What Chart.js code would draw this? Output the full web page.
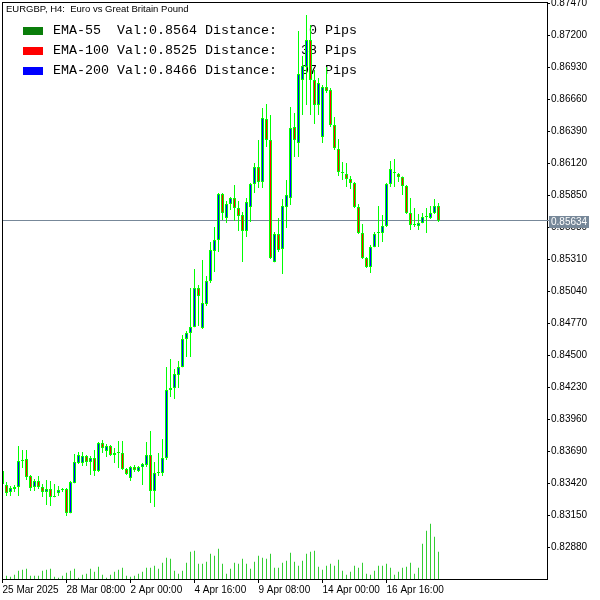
<!DOCTYPE html>
<html><head><meta charset="utf-8">
<script src="https://cdn.jsdelivr.net/npm/chart.js@4.4.1/dist/chart.umd.min.js"></script>
<style>html,body{margin:0;padding:0;background:#fff;}canvas{display:block;}</style>
</head><body>
<canvas id="c" width="600" height="600"></canvas>
<script>
const title = 'EURGBP, H4:  Euro vs Great Britain Pound';

const openP = [
.83524,.83406,.83347,.83372,.83389,.83608,.83625,.83482,.83389,.83440,
.83389,.83347,.83372,.83305,.83338,.83364,.83372,.83170,.83423,.83591,
.83591,.83650,.83600,.83633,.83524,.83760,.83692,.83735,.83659,.83676,
.83676,.83541,.83465,.83558,.83524,.83558,.83574,.83659,.83355,.83507,
.83507,.83633,.84207,.84224,.84333,.84401,.84637,.84687,.84738,.85067,
.84730,.84932,.85126,.85379,.85472,.85859,.85657,.85775,.85826,.85741,
.85682,.85548,.85750,.85944,.86087,.85961,.86492,.86315,.85286,.85522,
.85396,.85750,.85826,.86424,.86290,.86821,.86930,.87158,.86821,.86610,
.86340,.86762,.86736,.86441,.86239,.86037,.86028,.85986,.85952,.85750,
.85531,.85320,.85244,.85413,.85531,.85531,.85590,.85944,.86037,.86028,
.86003,.85927,.85699,.85598,.85590,.85615,.85666,.85657,.85699,.85758];

const highP = [
.83532,.83431,.83397,.83406,.83735,.83701,.83701,.83490,.83456,.83482,
.83414,.83448,.83440,.83414,.83397,.83380,.83380,.83440,.83667,.83684,
.83684,.83659,.83650,.83701,.83768,.83785,.83751,.83743,.83718,.83777,
.83777,.83549,.83566,.83574,.83566,.83591,.83768,.83861,.83600,.83676,
.83794,.84401,.84468,.84384,.84451,.84671,.84704,.85067,.85227,.85092,
.85303,.85168,.85455,.85581,.85868,.85868,.85800,.85834,.85935,.85800,
.85708,.85826,.85952,.86121,.86315,.86585,.86618,.86526,.85539,.85657,
.85817,.85978,.86593,.86543,.87234,.87023,.87369,.87285,.86905,.86838,
.86779,.86930,.86753,.86509,.86323,.86129,.86121,.86011,.85961,.85775,
.85607,.85328,.85429,.85539,.85758,.85682,.85952,.86138,.86155,.86037,
.86006,.85935,.85826,.85741,.85691,.85699,.85741,.85758,.85817,.85784];

const lowP = [
.83406,.83313,.83313,.83347,.83313,.83549,.83448,.83355,.83355,.83372,
.83305,.83237,.83229,.83302,.83313,.83347,.83144,.83167,.83420,.83583,
.83566,.83566,.83490,.83482,.83515,.83676,.83642,.83650,.83591,.83549,
.83532,.83490,.83440,.83515,.83515,.83406,.83558,.83254,.83220,.83482,
.83482,.83617,.84148,.84131,.84224,.84398,.84485,.84485,.84735,.84746,
.84721,.84915,.85109,.85202,.85370,.85640,.85615,.85725,.85632,.85548,
.85286,.85497,.85623,.85868,.85910,.85910,.86256,.85311,.85284,.85370,
.85185,.85573,.85767,.86171,.86171,.86526,.86610,.86526,.86450,.86526,
.86290,.86711,.86424,.86231,.86011,.85978,.85919,.85902,.85741,.85522,
.85311,.85236,.85193,.85410,.85413,.85455,.85581,.85919,.85919,.85961,
.85851,.85691,.85556,.85581,.85556,.85612,.85531,.85649,.85691,.85623];

const closeP = [
.83414,.83338,.83380,.83389,.83608,.83617,.83473,.83380,.83440,.83389,
.83347,.83372,.83305,.83305,.83364,.83364,.83170,.83431,.83600,.83659,
.83650,.83600,.83633,.83524,.83760,.83718,.83735,.83659,.83676,.83676,
.83541,.83499,.83558,.83532,.83558,.83583,.83659,.83355,.83507,.83515,
.83633,.84207,.84224,.84342,.84401,.84637,.84687,.84738,.85067,.85000,
.84940,.85126,.85387,.85472,.85859,.85699,.85775,.85826,.85741,.85674,
.85548,.85792,.85944,.86087,.85961,.86500,.86315,.85320,.85522,.85387,
.85758,.85851,.86416,.86315,.86871,.86939,.87158,.86821,.86610,.86795,
.86762,.86728,.86441,.86247,.86045,.86037,.85986,.85952,.85750,.85531,
.85320,.85244,.85413,.85522,.85531,.85590,.85944,.86070,.86037,.86003,
.85927,.85699,.85598,.85598,.85615,.85666,.85666,.85699,.85758,.85634];

const volume = [
null,33,23,43,83,93,103,33,33,33,
83,93,103,23,13,33,63,83,103,13,
43,53,103,73,123,43,13,43,73,93,
113,33,23,33,53,73,113,113,133,103,
163,213,203,83,53,83,163,273,283,153,
153,173,253,233,303,153,53,103,163,153,
203,153,103,173,233,213,203,253,113,113,
163,183,263,173,133,183,253,273,283,123,
93,133,153,133,193,83,43,73,133,113,
163,53,43,83,133,133,153,113,43,73,
113,123,163,53,113,353,483,553,423,273];

const priceTicks = [0.87470,0.87200,0.86930,0.86660,0.86390,0.86120,0.85850,0.85580,0.85310,0.85040,0.84770,0.84500,0.84230,0.83960,0.83690,0.83420,0.83150,0.82880];
const timeLabels = ['25 Mar 2025','28 Mar 08:00','2 Apr 00:00','4 Apr 16:00','9 Apr 08:00','14 Apr 00:00','16 Apr 16:00'];
const timeLabelIndex = [0,16,32,48,64,80,96];
const lastPrice = 0.85634;

const emaNames = ['EMA-55','EMA-100','EMA-200'];
const emaValues = [0.8564,0.8525,0.8466];
const emaDistance = [0,38,97];
const emaColors = ['#0a7d0a','#ff0000','#0000ff'];

const Y_MAX = 0.8747844, Y_MIN = 0.8261294;
const X_MIN = -0.125, X_MAX = 136.125;

const bodies = openP.map((o,i)=>({x:i, y:[o, closeP[i]]}));
const bodyColors = openP.map((o,i)=> closeP[i] > o ? '#0000ff' : (closeP[i] < o ? '#ff0000' : '#00ff00'));
const wicks = lowP.map((l,i)=>({x:i, y:[l, highP[i]]}));
const vols = volume.map((v,i)=>({x:i, y:v}));

const overlay = {
  id:'overlay',
  beforeDatasetsDraw(chart){
    const {ctx, chartArea:a, scales} = chart;
    ctx.save();
    const py = Math.floor(scales.y.getPixelForValue(lastPrice)) + 0.5;
    ctx.strokeStyle = '#778899'; ctx.lineWidth = 1;
    ctx.beginPath(); ctx.moveTo(a.left, py); ctx.lineTo(a.right + 3, py); ctx.stroke();
    ctx.fillStyle = '#000'; ctx.textAlign = 'left'; ctx.textBaseline = 'alphabetic';
    ctx.font = '9.5px "Liberation Sans"';
    ctx.fillText(title, 6, 12);
    ctx.font = '13.333px "Liberation Mono"';
    for (let i = 0; i < emaNames.length; i++) {
      const y0 = 27 + i*20;
      ctx.fillStyle = emaColors[i];
      ctx.fillRect(23, y0, 20, 8);
      const txt = emaNames[i].padEnd(8) + 'Val:' + emaValues[i].toFixed(4) + ' Distance:' + String(emaDistance[i]).padStart(5) + ' Pips';
      ctx.fillStyle = '#000';
      ctx.fillText(txt, 53, y0 + 7);
    }
    ctx.restore();
  },
  afterDatasetsDraw(chart){
    const {ctx, chartArea:a, scales} = chart;
    ctx.save();
    ctx.fillStyle = '#000';
    ctx.fillRect(a.left, a.top, a.right - a.left, 1);
    ctx.fillRect(a.left, a.top, 1, a.bottom - a.top);
    const py = scales.y.getPixelForValue(lastPrice);
    ctx.fillStyle = '#778899';
    ctx.fillRect(549, Math.round(py) - 5, 40, 12);
    ctx.fillStyle = '#fff';
    ctx.font = '10px "Liberation Sans"';
    ctx.textBaseline = 'middle'; ctx.textAlign = 'left';
    ctx.fillText(lastPrice.toFixed(5), 551, Math.round(py) + 1);
    ctx.restore();
  }
};

new Chart(document.getElementById('c'), {
  type:'bar',
  data:{ datasets:[
    {data:bodies, backgroundColor:bodyColors, borderColor:'#00ff00', borderWidth:1, borderSkipped:false,
     barThickness:3, grouped:false, minBarLength:1, inflateAmount:0, yAxisID:'y', clip:0},
    {data:wicks, backgroundColor:'#00ff00', borderWidth:0, barThickness:1, grouped:false, inflateAmount:0, yAxisID:'y', clip:0},
    {data:vols, backgroundColor:'#32cd32', borderWidth:0, barThickness:1, grouped:false, inflateAmount:0, yAxisID:'yv', clip:0}
  ]},
  options:{
    responsive:false, animation:false, devicePixelRatio:1,
    layout:{padding:{left:2, top:2, right:0, bottom:0}},
    plugins:{legend:{display:false}, tooltip:{enabled:false}},
    scales:{
      x:{type:'linear', position:'bottom', min:X_MIN, max:X_MAX, offset:false,
        afterBuildTicks:(s)=>{ s.ticks = timeLabelIndex.map(v=>({value:v})); },
        afterFit:(s)=>{ s.height = 21; s.paddingLeft = 0; s.paddingRight = 0; },
        ticks:{autoSkip:false, maxRotation:0, minRotation:0, align:'start', padding:1, color:'#000',
          font:{family:'Liberation Sans', size:10},
          callback:(v)=>{ const k = timeLabelIndex.indexOf(v); return k >= 0 ? timeLabels[k] : ''; }},
        grid:{drawOnChartArea:false, drawTicks:true, tickLength:4, color:'#000', offset:false},
        border:{display:true, color:'#000', width:1}
      },
      y:{type:'linear', position:'right', min:Y_MIN, max:Y_MAX,
        afterBuildTicks:(s)=>{ s.ticks = priceTicks.map(v=>({value:v})); },
        afterFit:(s)=>{ s.width = 53; s.paddingTop = 0; s.paddingBottom = 0; },
        ticks:{padding:1, color:'#000', font:{family:'Liberation Sans', size:10}, callback:(v)=>Number(v).toFixed(5)},
        grid:{drawOnChartArea:false, drawTicks:true, tickLength:3, color:'#000'},
        border:{display:true, color:'#000', width:1}
      },
      yv:{type:'linear', display:false, min:0, max:5770}
    }
  },
  plugins:[overlay]
});
</script>
</body></html>
